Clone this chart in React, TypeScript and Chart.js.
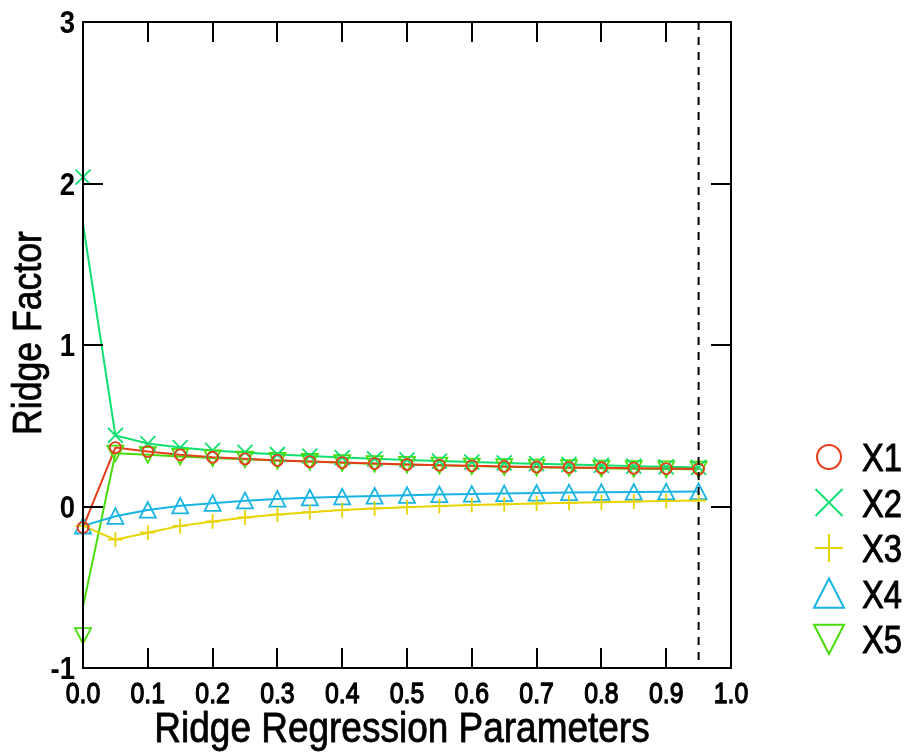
import React, { useEffect, useRef } from "react";
import { Chart, registerables } from "chart.js";

Chart.register(...registerables);

// Ridge regression parameter (x)
const ridgeK = [0, 0.05, 0.1, 0.15, 0.2, 0.25, 0.3, 0.35, 0.4, 0.45, 0.5, 0.55, 0.6, 0.65, 0.7, 0.75, 0.8, 0.85, 0.9, 0.95];

// Marker values per variable
const x1Values = [-0.13, 0.365, 0.34, 0.32, 0.305, 0.295, 0.285, 0.278, 0.272, 0.266, 0.26, 0.256, 0.252, 0.248, 0.245, 0.242, 0.24, 0.237, 0.235, 0.232];
const x2Values = [2.04, 0.44, 0.39, 0.365, 0.347, 0.335, 0.322, 0.312, 0.303, 0.295, 0.288, 0.281, 0.275, 0.27, 0.265, 0.26, 0.255, 0.25, 0.246, 0.242];
const x3Values = [-0.12, -0.205, -0.162, -0.12, -0.093, -0.068, -0.05, -0.035, -0.022, -0.012, -0.004, 0.003, 0.009, 0.014, 0.019, 0.023, 0.027, 0.031, 0.034, 0.037];
const x4Values = [-0.12, -0.06, -0.022, 0.004, 0.02, 0.036, 0.046, 0.054, 0.06, 0.065, 0.07, 0.074, 0.077, 0.08, 0.083, 0.086, 0.088, 0.09, 0.091, 0.093];
const x5Values = [-0.8, 0.33, 0.32, 0.31, 0.3, 0.293, 0.285, 0.278, 0.271, 0.265, 0.26, 0.255, 0.25, 0.246, 0.243, 0.24, 0.237, 0.234, 0.232, 0.23];

// Where each fitted line starts at k = 0 (differs from the first marker for some)
const x1LineStart = -0.13;
const x2LineStart = 1.75;
const x3LineStart = -0.12;
const x4LineStart = -0.12;
const x5LineStart = -0.62;

const seriesNames = ["X1", "X2", "X3", "X4", "X5"];
const seriesColors = ["#e83c1a", "#10e070", "#e8d400", "#18b4e4", "#48dc08"];
const seriesMarkers = ["circle", "crossRot", "cross", "triangle", "triangleDown"];

const selectedK = 0.95;
const yTickStep = 1;
const xTickStep = 0.1;

const FONT = "'Liberation Sans', Arial, Helvetica, sans-serif";

function drawMarker(ctx: CanvasRenderingContext2D, style: string, x: number, y: number, r: number) {
  ctx.beginPath();
  if (style === "circle") {
    ctx.arc(x, y, r, 0, Math.PI * 2);
  } else if (style === "crossRot") {
    ctx.moveTo(x - r, y - r);
    ctx.lineTo(x + r, y + r);
    ctx.moveTo(x - r, y + r);
    ctx.lineTo(x + r, y - r);
  } else if (style === "cross") {
    ctx.moveTo(x - r, y);
    ctx.lineTo(x + r, y);
    ctx.moveTo(x, y - r);
    ctx.lineTo(x, y + r);
  } else if (style === "triangle") {
    ctx.moveTo(x, y - r);
    ctx.lineTo(x + r, y + r * 0.95);
    ctx.lineTo(x - r, y + r * 0.95);
    ctx.closePath();
  } else if (style === "triangleDown") {
    ctx.moveTo(x, y + r);
    ctx.lineTo(x + r, y - r * 0.95);
    ctx.lineTo(x - r, y - r * 0.95);
    ctx.closePath();
  }
  ctx.stroke();
}

function drawText(
  ctx: CanvasRenderingContext2D,
  text: string,
  x: number,
  y: number,
  size: number,
  sx: number,
  sy: number,
  weight: string,
  align: CanvasTextAlign,
  rotate = 0,
  heavy = 0
) {
  ctx.save();
  ctx.translate(x, y);
  if (rotate) ctx.rotate(rotate);
  ctx.scale(sx, sy);
  ctx.font = `${weight} ${size}px ${FONT}`;
  ctx.fillStyle = "#000";
  ctx.strokeStyle = "#000";
  ctx.textAlign = align;
  ctx.textBaseline = "alphabetic";
  ctx.fillText(text, 0, 0);
  if (heavy > 0) {
    ctx.lineWidth = heavy;
    ctx.lineJoin = "round";
    ctx.strokeText(text, 0, 0);
  }
  ctx.restore();
}

const framePlugin = {
  id: "framePlugin",
  afterDraw(chart: any) {
    const ctx: CanvasRenderingContext2D = chart.ctx;
    const { left, right, top, bottom } = chart.chartArea;
    const xs = chart.scales.x;
    const ys = chart.scales.y;
    ctx.save();

    // dashed selection line
    const kx = xs.getPixelForValue(selectedK);
    ctx.strokeStyle = "#000";
    ctx.lineWidth = 2;
    ctx.setLineDash([8, 7]);
    ctx.beginPath();
    ctx.moveTo(kx, top);
    ctx.lineTo(kx, bottom);
    ctx.stroke();
    ctx.setLineDash([]);

    // frame
    ctx.lineWidth = 2;
    ctx.strokeRect(left, top, right - left, bottom - top);

    // ticks (inward, all sides)
    const tl = 20;
    ctx.beginPath();
    xs.ticks.forEach((t: any) => {
      const px = Math.round(xs.getPixelForValue(t.value));
      ctx.moveTo(px, bottom);
      ctx.lineTo(px, bottom - tl);
      ctx.moveTo(px, top);
      ctx.lineTo(px, top + tl);
    });
    ys.ticks.forEach((t: any) => {
      const py = Math.round(ys.getPixelForValue(t.value));
      ctx.moveTo(left, py);
      ctx.lineTo(left + tl, py);
      ctx.moveTo(right, py);
      ctx.lineTo(right - tl, py);
    });
    ctx.stroke();

    // tick labels
    xs.ticks.forEach((t: any) => {
      const px = xs.getPixelForValue(t.value);
      drawText(ctx, Number(t.value).toFixed(1), px, bottom + 35, 27, 0.92, 1.12, "normal", "center", 0, 1.2);
    });
    ys.ticks.forEach((t: any) => {
      const py = ys.getPixelForValue(t.value);
      drawText(ctx, String(Math.round(t.value)), left - 8, py + 11, 29, 0.95, 1.08, "bold", "right");
    });

    // axis titles
    drawText(ctx, "Ridge Regression Parameters", (left + right) / 2 - 5, bottom + 74, 43, 0.86, 1, "normal", "center", 0, 0.8);
    drawText(ctx, "Ridge Factor", 41, (top + bottom) / 2 - 12, 40, 0.89, 1, "normal", "center", -Math.PI / 2, 0.8);

    // legend
    const legendRadius = [12, 13.5, 14, 15, 15];
    seriesNames.forEach((name, i) => {
      const cy = 457 + i * 45.5;
      ctx.strokeStyle = seriesColors[i];
      ctx.lineWidth = 2;
      drawMarker(ctx, seriesMarkers[i], 829, cy, legendRadius[i]);
      drawText(ctx, name, 862, cy + 14, 38, 0.86, 1, "normal", "left", 0, 1);
    });

    ctx.restore();
  },
};

const markerPlugin = {
  id: "markerPlugin",
  afterDatasetsDraw(chart: any) {
    const ctx: CanvasRenderingContext2D = chart.ctx;
    const xs = chart.scales.x;
    const ys = chart.scales.y;
    const sets = [x1Values, x2Values, x3Values, x4Values, x5Values];
    const radius = [5.5, 7.5, 7.5, 8, 8];
    ctx.save();
    ctx.lineWidth = 1.8;
    for (let s = sets.length - 1; s >= 0; s--) {
      ctx.strokeStyle = seriesColors[s];
      sets[s].forEach((v, i) => {
        drawMarker(ctx, seriesMarkers[s], xs.getPixelForValue(ridgeK[i]), ys.getPixelForValue(v), radius[s]);
      });
    }
    ctx.restore();
  },
};

function lineData(values: number[], start: number) {
  return ridgeK.map((k, i) => ({ x: k, y: i === 0 ? start : values[i] }));
}

export default function App() {
  const canvasRef = useRef<HTMLCanvasElement | null>(null);

  useEffect(() => {
    if (!canvasRef.current) return;
    const starts = [x1LineStart, x2LineStart, x3LineStart, x4LineStart, x5LineStart];
    const sets = [x1Values, x2Values, x3Values, x4Values, x5Values];
    const chart = new Chart(canvasRef.current, {
      type: "line",
      data: {
        datasets: sets.map((vals, i) => ({
          label: seriesNames[i],
          data: lineData(vals, starts[i]),
          borderColor: seriesColors[i],
          borderWidth: 2,
          pointRadius: 0,
          fill: false,
          tension: 0,
          clip: false as any,
        })),
      },
      options: {
        animation: false,
        responsive: false,
        maintainAspectRatio: false,
        layout: { padding: { left: 83, top: 22, right: 182, bottom: 88 } },
        plugins: { legend: { display: false }, tooltip: { enabled: false } },
        scales: {
          x: {
            type: "linear",
            min: 0,
            max: 1,
            ticks: { display: false, stepSize: xTickStep },
            grid: { display: false, drawTicks: false },
            border: { display: false },
          },
          y: {
            type: "linear",
            min: -1,
            max: 3,
            ticks: { display: false, stepSize: yTickStep },
            grid: { display: false, drawTicks: false },
            border: { display: false },
          },
        },
      },
      plugins: [markerPlugin, framePlugin],
    });
    return () => chart.destroy();
  }, []);

  return (
    <div style={{ position: "absolute", left: 0, top: 0, width: 913, height: 756, background: "#fff" }}>
      <canvas ref={canvasRef} width={913} height={756} style={{ display: "block" }} />
    </div>
  );
}
